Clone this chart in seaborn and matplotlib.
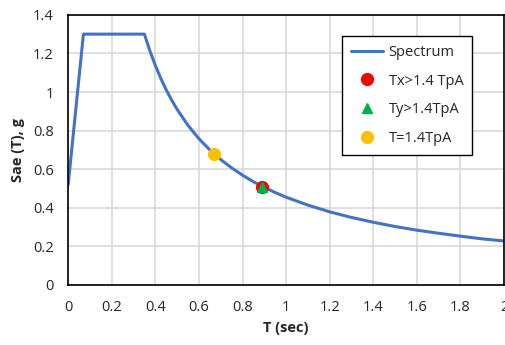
import seaborn as sns
import matplotlib.pyplot as plt
import pandas as pd

# spectrum
T = [0, 0.07, 0.35, 0.375, 0.4, 0.425, 0.45, 0.475, 0.5, 0.55, 0.6, 0.65, 0.7,
     0.75, 0.8, 0.85, 0.9, 0.95, 1.0, 1.1, 1.2, 1.3, 1.4, 1.5, 1.6, 1.7, 1.8,
     1.9, 2.0]
Sae = [0.52, 1.3, 1.3, 1.213, 1.138, 1.071, 1.011, 0.958, 0.910, 0.827, 0.758,
       0.700, 0.650, 0.607, 0.569, 0.535, 0.506, 0.479, 0.455, 0.414, 0.379,
       0.350, 0.325, 0.303, 0.284, 0.268, 0.253, 0.239, 0.228]

# period points
tx = [0.89]
sx = [0.51]
ty = [0.89]
sy = [0.51]
t0 = [0.667]
s0 = [0.68]

df = pd.DataFrame({'T': T, 'Sae': Sae})

sns.set_style('whitegrid', {'grid.color': '#d9d9d9', 'axes.edgecolor': 'black'})
plt.rcParams['font.family'] = ['Open Sans', 'DejaVu Sans']

fig = plt.figure(figsize=(5.05, 3.45), dpi=100)
ax = fig.add_axes([0.135, 0.174, 0.863, 0.783])

sns.lineplot(data=df, x='T', y='Sae', color='#4472C4', linewidth=2.2, ax=ax, label='Spectrum')
ax.plot(tx, sx, 'o', color='#FF0000', markersize=8.5, linestyle='none', label='Tx>1.4 TpA')
ax.plot(ty, sy, '^', color='#00B050', markersize=7.5, linestyle='none', label='Ty>1.4TpA')
ax.plot(t0, s0, 'o', color='#FFC000', markersize=8.5, linestyle='none', label='T=1.4TpA')

ax.set_xlim(0, 2)
ax.set_ylim(0, 1.4)
ax.set_xticks([0, 0.2, 0.4, 0.6, 0.8, 1, 1.2, 1.4, 1.6, 1.8, 2])
ax.set_xticklabels(['0', '0.2', '0.4', '0.6', '0.8', '1', '1.2', '1.4', '1.6', '1.8', '2'])
ax.set_yticks([0, 0.2, 0.4, 0.6, 0.8, 1, 1.2, 1.4])
ax.set_yticklabels(['0', '0.2', '0.4', '0.6', '0.8', '1', '1.2', '1.4'])
ax.tick_params(labelsize=10.5, colors='#262626', pad=7)
for s in ax.spines.values():
    s.set_linewidth(1.2)
ax.grid(linewidth=1.2)

ax.set_xlabel('T (sec)', fontsize=10.5, fontweight='bold', labelpad=5)
ax.set_ylabel('Sae (T), g', fontsize=10.5, fontweight='bold', labelpad=6)

leg = ax.legend(loc='upper left', bbox_to_anchor=(0.628, 0.922), borderaxespad=0,
                fontsize=10.5, frameon=True, fancybox=False, edgecolor='black',
                framealpha=1, handlelength=2.2, handletextpad=0.4,
                labelspacing=0.95, borderpad=0.6)
leg.get_frame().set_linewidth(1.0)

fig.savefig('out.png', dpi=100)
